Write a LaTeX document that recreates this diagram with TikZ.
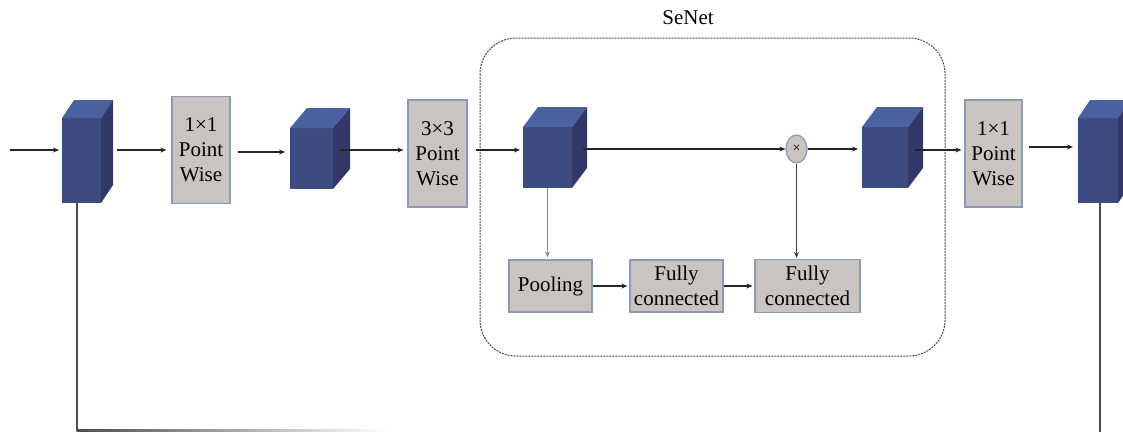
\documentclass[tikz,border=0pt]{standalone}
\usepackage{fontspec}
\setmainfont{Liberation Serif}
\usetikzlibrary{arrows.meta,shapes.geometric}

\definecolor{cubefront}{HTML}{3D4B80}
\definecolor{cubetop}{HTML}{4A63A0}
\definecolor{cubeside}{HTML}{343868}
\definecolor{boxfill}{HTML}{C9C3C1}
\definecolor{boxline}{HTML}{8C9AB8}

\tikzset{
  frontface/.style={fill=cubefront, inner sep=0pt, outer sep=0pt},
  topface/.style={fill=cubetop},
  sideface/.style={fill=cubeside},
  opbox/.style={draw=boxline, fill=boxfill, line width=1.2pt, inner sep=0pt,
    align=center, font=\fontsize{21}{25}\selectfont},
  mulnode/.style={ellipse, draw=boxline, fill=boxfill, line width=1.2pt,
    minimum width=21pt, minimum height=28pt, inner sep=0pt,
    font=\fontsize{14}{14}\selectfont},
  flow/.style={draw=black!85, line width=1.5pt,
    -{Stealth[length=6pt,width=5pt]}},
  thinflow/.style={draw=black!75, line width=1pt,
    -{Stealth[length=6pt,width=5pt]}},
  link/.style={draw=black!70, line width=1.2pt},
  group/.style={draw=black!70, dashed, dash pattern=on 2pt off 1pt,
    line width=1pt, rounded corners=36pt},
  caption/.style={font=\fontsize{21}{25}\selectfont}
}

% feature-map block: name, centre x, centre y, width, height, depth x, depth y
\newcommand\featblock[7]{%
  \node[frontface, minimum width=#4pt, minimum height=#5pt] (#1) at (#2,#3) {};
  \fill[topface] (#1.north west) -- ++(#6,#7) -- ++(#4,0) -- (#1.north east) -- cycle;
  \fill[sideface] (#1.north east) -- ++(#6,#7) -- ++(0,#5) -- (#1.south east) -- cycle;
}

\begin{document}
\begin{tikzpicture}[x=1pt, y=-1pt]
\clip (0,0) rectangle (1123,432);
\fill[white] (0,0) rectangle (1123,432);

% SE block frame and title
\draw[group] (480,38) rectangle (945,356);
\node[caption] (senet) at (688,18) {SeNet};

% feature maps
\featblock{c1}{81.5}{160.5}{39}{85}{12}{-18}
\featblock{c2}{311.5}{158.5}{43}{61}{17}{-20}
\featblock{c3}{547.5}{157.5}{49}{61}{15}{-20}
\featblock{c4}{885}{157.5}{46}{61}{15}{-20}
\featblock{c5}{1098}{160.5}{40}{85}{12}{-18}

% convolution boxes
\node[opbox, minimum width=58pt, minimum height=107pt] (pw1) at (201,150) {1×1\\Point\\Wise};
\node[opbox, minimum width=59pt, minimum height=107pt] (pw3) at (437.5,153.5) {3×3\\Point\\Wise};
\node[opbox, minimum width=57pt, minimum height=107pt] (pw2) at (993.5,153.5) {1×1\\Point\\Wise};

% squeeze-excitation branch
\node[opbox, minimum width=83pt, minimum height=52pt] (pool) at (550.5,286) {Pooling};
\node[opbox, minimum width=93pt, minimum height=52pt] (fc1) at (676.5,286) {Fully\\connected};
\node[opbox, minimum width=105pt, minimum height=53pt] (fc2) at (807.5,286) {Fully\\connected};
\node[mulnode] (mul) at (796.5,149) {×};

% main path
\coordinate (inp) at (10,150);
\draw[flow] (inp) -- ([xshift=-3pt]inp -| c1.west);
\draw[flow] ([xshift=16pt]pw1.west -| c1.east) -- ([xshift=-5pt]pw1.west);
\draw[flow] ([yshift=-2pt,xshift=7pt]pw1.east) -- ([yshift=-2pt,xshift=-5pt]pw1.east -| c2.west);
\draw[flow] ([yshift=3.5pt,xshift=7pt]pw3.west -| c2.east) -- ([yshift=3.5pt,xshift=-4pt]pw3.west);
\draw[flow] ([yshift=3.5pt,xshift=8pt]pw3.east) -- ([yshift=3.5pt,xshift=-3pt]pw3.east -| c3.west);
\draw[flow] ([xshift=11pt]mul.west -| c3.east) -- (mul.west);
\draw[flow] (mul.east) -- ([xshift=-4pt]mul.east -| c4.west);
\draw[flow] ([yshift=3.5pt,xshift=7pt]pw2.west -| c4.east) -- ([yshift=3.5pt,xshift=-3pt]pw2.west);
\draw[flow] ([yshift=6.5pt,xshift=6pt]pw2.east) -- ([yshift=6.5pt,xshift=-5pt]pw2.east -| c5.west);

% squeeze-excitation connections
\draw[thinflow, draw=black!45] (c3.south) -- ([yshift=2pt]pool.north -| c3.south);
\draw[flow] (pool.east) -- ([xshift=-2pt]fc1.west);
\draw[flow] (fc1.east) -- ([xshift=-2pt]fc2.west);
\draw[thinflow] (mul.south) -- ([yshift=1pt]fc2.north -| mul.south);

% residual connection
\coordinate (skipL) at (77,430);
\coordinate (skipR) at (1100,432);
\draw[link] ([xshift=-4.5pt]c1.south) -- (skipL);
\shade[left color=black!70, right color=white] (76.5,429) rectangle (385,431);
\draw[link] ([xshift=2pt]c5.south) -- (skipR);
\end{tikzpicture}
\end{document}
